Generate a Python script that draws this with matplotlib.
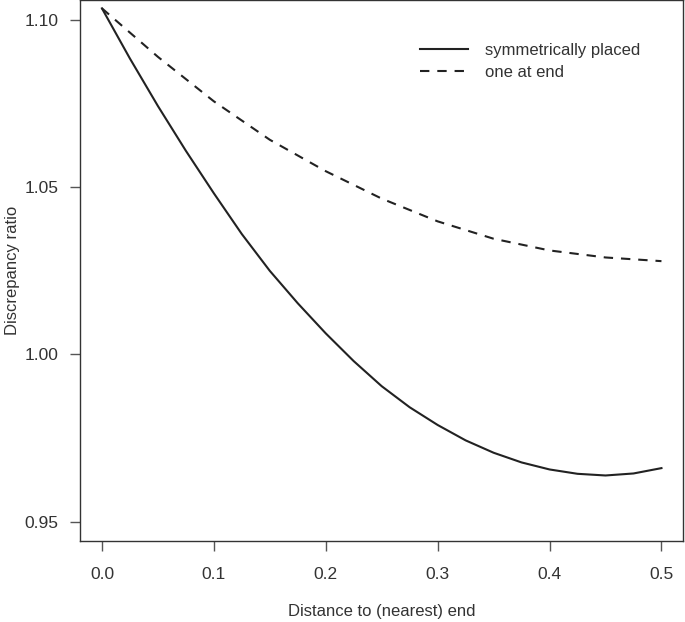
import matplotlib
matplotlib.use("Agg")
import matplotlib.pyplot as plt

# Discrepancy ratio against distance to (nearest) end.
x_sym = [0.0, 0.025, 0.05, 0.075, 0.1, 0.125, 0.15, 0.175, 0.2, 0.225, 0.25,
         0.275, 0.3, 0.325, 0.35, 0.375, 0.4, 0.425, 0.45, 0.475, 0.5]
y_sym = [1.1035, 1.0885, 1.0743, 1.0609, 1.0482, 1.0360, 1.0250, 1.0153, 1.0063,
         0.9980, 0.9905, 0.9842, 0.9789, 0.9743, 0.9706, 0.9677, 0.9656, 0.9643,
         0.9638, 0.9644, 0.9660]

x_end = [0.0, 0.05, 0.1, 0.15, 0.2, 0.25, 0.3, 0.35, 0.4, 0.45, 0.5]
y_end = [1.1035, 1.0890, 1.0757, 1.0642, 1.0548, 1.0466, 1.0398, 1.0346, 1.0311,
         1.0290, 1.0279]

labels = ["symmetrically placed", "one at end"]
xticks = [0.0, 0.1, 0.2, 0.3, 0.4, 0.5]
yticks = [0.95, 1.00, 1.05, 1.10]

plt.rcParams['font.family'] = ['Liberation Sans', 'DejaVu Sans']
plt.rcParams['font.size'] = 12
ink = '#333333'
line_col = '#222222'

fig = plt.figure(figsize=(6.85, 6.22), dpi=100)
ax = fig.add_axes([0.1168, 0.1302, 0.8802, 0.8698])

ax.plot(x_sym, y_sym, '-', color=line_col, lw=1.5, label=labels[0])
ax.plot(x_end, y_end, color=line_col, lw=1.5, dashes=(4.5, 3.8), label=labels[1])

ax.set_xlim(-0.0196, 0.5192)
ax.set_ylim(0.9442, 1.106)
ax.set_xticks(xticks)
ax.set_xticklabels([f"{t:.1f}" for t in xticks])
ax.set_yticks(yticks)
ax.set_yticklabels([f"{t:.2f}" for t in yticks])

for s in ax.spines.values():
    s.set_color(ink)
    s.set_linewidth(1.0)
ax.tick_params(direction='out', length=7.5, width=1.0, color='#555555',
               labelcolor=ink, labelsize=12.5)
ax.tick_params(axis='x', pad=11)
ax.tick_params(axis='y', pad=8)

ax.set_xlabel("Distance to (nearest) end", color=ink, fontsize=12, labelpad=16)
ax.set_ylabel("Discrepancy ratio", color=ink, fontsize=12, labelpad=3)

ax.legend(loc='upper left', bbox_to_anchor=(0.601, 0.945),
          bbox_transform=fig.transFigure, frameon=False, borderpad=0,
          handlelength=2.9, handletextpad=1.0, labelspacing=0.42,
          labelcolor=ink, fontsize=12)

fig.savefig("out.png", dpi=100)
